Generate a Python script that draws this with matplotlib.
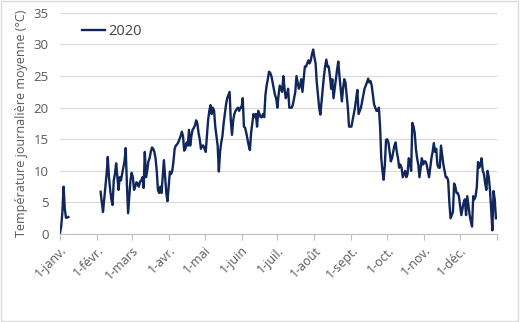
import numpy as np
import pandas as pd
import matplotlib
matplotlib.use("Agg")
import matplotlib.pyplot as plt
from matplotlib.patches import Rectangle

nan = np.nan

# Daily mean temperature, 2020 (°C), one list per month; nan = no reading
jan = [0.2, 1.2, 3.5, 7.5, 4.0, 2.6, 2.6, 2.7] + [nan] * 23
feb = [nan, nan, nan,
       6.7, 5.0, 3.5, 5.5, 7.5, 9.5, 12.2, 9.0, 7.0, 5.5, 4.6, 8.5, 9.5,
       11.2, 9.0, 7.0, 9.0, 8.5, 9.5, 10.5, 11.5, 13.6, 8.0, 3.3, 6.0, 8.5]
mar = [9.7, 9.0, 7.0, 7.5, 8.2, 8.0, 7.5, 8.3, 8.5, 9.0, 7.3, 13.0, 9.0,
       10.0, 11.5, 12.0, 13.0, 13.7, 13.5, 13.0, 12.0, 10.0, 7.0, 6.5, 7.5,
       6.5, 9.0, 11.7, 9.0, 6.5, 5.2]
apr = [7.5, 9.9, 9.5, 10.0, 11.5, 13.5, 14.0, 14.2, 14.5, 15.0, 15.5, 16.2,
       15.5, 13.2, 13.5, 14.5, 14.0, 16.5, 14.0, 15.5, 16.5, 16.8, 17.2,
       18.0, 17.5, 16.0, 15.0, 13.5, 14.0, 14.0]
may = [13.5, 13.0, 15.5, 18.0, 19.5, 20.4, 19.0, 20.0, 19.5, 17.0, 15.5,
       14.0, 9.9, 13.0, 14.5, 15.5, 17.5, 19.0, 20.5, 21.5, 22.0, 22.5, 18.0,
       15.7, 18.0, 19.0, 19.5, 19.8, 20.0, 19.5, 20.0]
jun = [20.0, 21.5, 17.0, 16.8, 16.0, 15.0, 14.0, 13.3, 16.0, 17.5, 19.0,
       18.5, 19.0, 17.0, 19.5, 19.0, 18.5, 18.5, 19.0, 18.5, 22.0, 23.5,
       24.5, 25.7, 25.5, 25.0, 24.0, 23.0, 22.0, 21.5]
jul = [20.0, 22.0, 23.5, 23.0, 22.5, 25.0, 23.0, 21.5, 22.0, 23.0, 20.0,
       20.0, 20.0, 20.5, 21.5, 22.5, 25.0, 24.0, 23.0, 23.5, 24.5, 22.5,
       24.5, 26.5, 26.5, 27.0, 27.5, 27.0, 27.5, 28.5, 29.2]
aug = [28.0, 27.0, 24.0, 22.0, 20.0, 18.9, 21.0, 23.0, 25.0, 26.5, 27.6,
       26.5, 26.5, 25.0, 23.0, 24.5, 21.5, 23.0, 24.5, 26.0, 27.3, 25.0,
       23.0, 21.0, 23.0, 24.5, 24.0, 22.0, 20.0, 17.0, 17.0]
sep = [17.0, 18.0, 19.0, 20.0, 21.5, 22.8, 19.0, 19.5, 20.0, 21.0, 22.0,
       23.0, 23.5, 24.0, 24.6, 24.0, 24.2, 23.5, 22.0, 20.5, 20.0, 19.5,
       19.5, 20.0, 17.0, 12.0, 10.0, 8.6, 11.0, 14.9]
oct_ = [15.0, 14.5, 13.0, 11.5, 12.0, 13.0, 14.0, 14.5, 13.0, 12.0, 10.5,
        11.0, 10.5, 9.0, 9.5, 10.0, 9.0, 9.5, 12.0, 11.5, 10.0, 17.6, 17.0,
        16.0, 13.5, 12.0, 11.0, 9.0, 10.5, 12.0, 11.0]
nov = [11.5, 11.5, 11.0, 10.0, 9.0, 10.5, 12.0, 13.0, 14.4, 13.0, 13.5,
       11.0, 10.5, 10.5, 14.0, 12.5, 11.0, 10.0, 9.0, 9.0, 8.5, 5.0, 2.5,
       3.0, 3.5, 8.0, 7.5, 6.5, 6.5, 6.0]
dec = [4.5, 3.0, 4.0, 5.0, 5.5, 3.0, 6.0, 4.5, 3.0, 2.0, 1.2, 6.0, 5.5,
       6.0, 7.5, 11.4, 10.5, 11.0, 12.0, 10.0, 9.5, 8.0, 7.0, 10.0, 9.0,
       7.0, 4.0, 0.6, 6.8, 5.5, 2.5]

temps = jan + feb + mar + apr + may + jun + jul + aug + sep + oct_ + nov + dec
dates = pd.date_range("2020-01-01", "2020-12-31", freq="D")

month_labels = ["1-janv.", "1-févr.", "1-mars", "1-avr.", "1-mai", "1-juin",
                "1-juil.", "1-août", "1-sept.", "1-oct.", "1-nov.", "1-déc."]
series_name = "2020"
y_label = "Température journalière moyenne (°C)"

plt.rcParams["font.family"] = ["Open Sans", "DejaVu Sans"]
grey_text = "#595959"
line_color = "#10275c"

fig = plt.figure(figsize=(5.2, 3.22), dpi=100)
ax = fig.add_axes([0.1154, 0.273, 0.956 - 0.1154, 0.96 - 0.273])

ax.plot(dates, temps, color=line_color, lw=1.7, label=series_name)

ax.set_ylim(0, 35)
ax.set_yticks(np.arange(0, 36, 5))
ax.set_xlim(pd.Timestamp("2020-01-01"), pd.Timestamp("2021-01-01"))

tick_dates = list(pd.date_range("2020-01-01", "2021-01-01", freq="MS"))
ax.set_xticks(tick_dates)
ax.set_xticklabels(month_labels + [""], rotation=45, ha="right",
                   rotation_mode="anchor", fontsize=9, color=grey_text)

ax.grid(axis="y", color="#d9d9d9", lw=0.8)
ax.set_axisbelow(True)
for s in ("left", "right", "top"):
    ax.spines[s].set_visible(False)
ax.spines["bottom"].set_color("#bfbfbf")
ax.tick_params(axis="x", direction="out", length=4, color="#bfbfbf", pad=3)
ax.tick_params(axis="y", length=0, labelsize=9.5, labelcolor=grey_text, pad=8)

ax.set_ylabel(y_label, fontsize=9, color=grey_text, labelpad=4)

ax.legend(loc="upper left", bbox_to_anchor=(0.02, 1.01), frameon=False,
          fontsize=10.5, handlelength=1.6, handletextpad=0.2, labelcolor="#404040")

fig.patches.append(Rectangle((0.002, 0.003), 0.995, 0.994, transform=fig.transFigure,
                             fill=False, edgecolor="#d9d9d9", lw=1))

fig.savefig("out.png", dpi=100)
